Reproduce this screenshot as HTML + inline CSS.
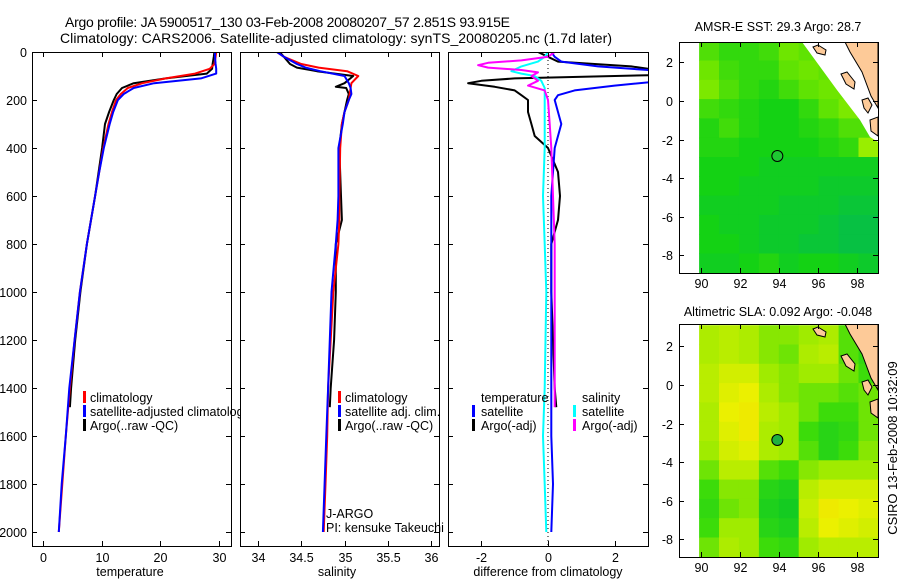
<!DOCTYPE html>
<html><head><meta charset="utf-8"><style>
body{margin:0;background:#fff;}
svg{display:block;font-family:"Liberation Sans",sans-serif;}
</style></head><body>
<svg id="fig" width="900" height="580" viewBox="0 0 900 580" xmlns="http://www.w3.org/2000/svg">
<defs>
<clipPath id="c1"><rect x="32" y="52" width="200" height="494"/></clipPath>
<clipPath id="c2"><rect x="240" y="52" width="199" height="494"/></clipPath>
<clipPath id="c3"><rect x="448" y="52" width="200" height="494"/></clipPath>
<clipPath id="cl1"><rect x="0" y="380" width="240" height="60"/></clipPath>
<clipPath id="cm1"><rect x="679" y="42" width="199" height="231"/></clipPath>
<clipPath id="cm2"><rect x="679" y="324" width="199" height="233"/></clipPath>
</defs>
<text x="65" y="27" font-size="14" textLength="445">Argo profile: JA 5900517_130 03-Feb-2008 20080207_57 2.851S 93.915E</text>
<text x="60" y="43" font-size="14" textLength="552">Climatology: CARS2006. Satellite-adjusted climatology: synTS_20080205.nc (1.7d later)</text>
<g id="g1" clip-path="url(#c1)"></g>
<g id="g2" clip-path="url(#c2)"></g>
<g id="g3" clip-path="url(#c3)"></g>
<g id="m1" clip-path="url(#cm1)"></g>
<g id="m2" clip-path="url(#cm2)"></g>
<g id="axes"></g>
<g font-size="12.5" clip-path="url(#cl1)">
<rect x="83" y="391" width="3" height="12" fill="#f00"/><text x="90" y="402">climatology</text>
<rect x="83" y="405" width="3" height="12" fill="#00f"/><text x="90" y="416">satellite-adjusted climatology</text>
<rect x="83" y="419" width="3" height="12" fill="#000"/><text x="90" y="430">Argo(..raw -QC)</text>
</g>
<g font-size="12.5">
<rect x="338" y="391" width="3" height="12" fill="#f00"/><text x="345" y="402">climatology</text>
<rect x="338" y="405" width="3" height="12" fill="#00f"/><text x="345" y="416">satellite adj. clim.</text>
<rect x="338" y="419" width="3" height="12" fill="#000"/><text x="345" y="430">Argo(..raw -QC)</text>
<text x="326" y="518">J-ARGO</text>
<text x="326" y="532">PI: kensuke Takeuchi</text>
</g>
<g font-size="12.5">
<text x="481" y="402">temperature</text>
<rect x="472" y="405" width="3" height="12" fill="#00f"/><text x="481" y="416">satellite</text>
<rect x="472" y="419" width="3" height="12" fill="#000"/><text x="481" y="430">Argo(-adj)</text>
<text x="582" y="402">salinity</text>
<rect x="573" y="405" width="3" height="12" fill="#0ff"/><text x="582" y="416">satellite</text>
<rect x="573" y="419" width="3" height="12" fill="#f0f"/><text x="582" y="430">Argo(-adj)</text>
</g>
<text x="130" y="576" font-size="12.5" text-anchor="middle">temperature</text>
<text x="337" y="576" font-size="12.5" text-anchor="middle">salinity</text>
<text x="548" y="576" font-size="12.5" text-anchor="middle">difference from climatology</text>
<text x="778" y="31" font-size="12.5" text-anchor="middle">AMSR-E SST: 29.3 Argo: 28.7</text>
<text x="778" y="316" font-size="12.5" text-anchor="middle">Altimetric SLA: 0.092 Argo: -0.048</text>
<text transform="translate(897,448) rotate(-90)" font-size="13" text-anchor="middle">CSIRO 13-Feb-2008 10:32:09</text>
</svg>
<script>
// ---- profile data ----
const depthsT = [0,20,50,70,90,110,130,150,175,200,250,300,400,500,600,700,800,1000,1200,1400,1600,1800,2000];
const climT = [29.6,29.5,29.3,28.5,26,21,17,14.5,13.3,12.5,11.8,11.2,10.3,9.6,8.9,8.2,7.5,6.3,5.4,4.6,3.9,3.3,2.7];
const satT  = [29.4,29.4,29.5,29.6,29.6,27,19,15.5,13.8,12.8,12,11.4,10.4,9.6,8.9,8.2,7.5,6.3,5.4,4.5,3.9,3.2,2.7];
const argoDepths = [0,20,50,70,90,110,130,150,175,200,250,300,400,500,600,700,800,1000,1200,1400,1480];
const argoT = [29.3,29.2,29.0,28.9,28.0,21,15.5,13.5,12.6,12.1,11.3,10.6,10.1,9.5,8.9,8.2,7.5,6.4,5.5,4.8,4.6];
const depthsS = [0,20,50,65,80,100,130,150,175,200,250,300,400,600,700,800,1000,1200,1400,1600,1800,2000];
const climS = [34.22,34.3,34.5,34.7,35.03,35.16,35.08,35.07,35.06,35.05,35.0,34.97,34.95,34.94,34.94,34.93,34.87,34.84,34.81,34.8,34.78,34.76];
const satS  = [34.22,34.3,34.45,34.55,34.72,35.0,35.05,35.07,35.08,35.05,35.0,34.98,34.93,34.93,34.92,34.9,34.85,34.83,34.81,34.79,34.77,34.75];
const argoSDepths = [0,20,50,65,80,100,130,145,150,175,200,300,400,600,700,800,1000,1200,1400,1480];
const argoS = [34.25,34.3,34.37,34.45,34.68,35.1,35.0,34.9,35.02,35.05,35.03,34.97,34.94,34.96,34.97,34.9,34.9,34.88,34.84,34.83];
const dTsatDepths = [0,20,40,60,80,100,120,140,160,180,200,250,300,350,400,500,600,800,1000,1200,1400,1600,1800,2000];
const dTsat = [0.1,0.2,0.4,1.5,3.5,3.5,3.5,2.0,0.8,0.3,0.2,0.3,0.4,0.3,0.2,0.15,0.1,0.1,0.1,0.1,0.1,0.1,0.15,0.1];
const dTargoDepths = [0,20,40,60,80,95,110,120,130,145,160,180,200,250,300,350,400,500,600,700,800,1000,1200,1400,1480];
const dTargo = [-0.3,0,0.3,2.5,3.5,3.5,-1.0,-2.0,-2.4,-1.6,-1.0,-0.8,-0.6,-0.6,-0.5,-0.4,0,0.3,0.36,0.3,0.1,0.1,0.15,0.2,0.25];
const dSsatDepths = [0,20,40,60,80,90,100,120,150,200,400,600,800,1000,1400,1600,1800,2000];
const dSsat = [0,-0.1,-0.3,-0.8,-1.1,-0.8,-0.4,-0.2,-0.1,-0.1,-0.1,-0.15,-0.1,-0.05,-0.1,-0.15,-0.1,-0.05];
const dSargoDepths = [0,20,35,45,55,65,75,85,100,120,140,160,200,300,400,600,800,1000,1200,1400,1480];
const dSargo = [0.2,0,-0.8,-1.8,-2.1,-1.8,-0.8,-0.3,-0.5,-0.3,-0.6,-0.1,0,0.05,0.1,0.15,0.2,0.2,0.2,0.2,0.2];
// ---- ticks ----
const depthTicks = [0,200,400,600,800,1000,1200,1400,1600,1800,2000];
const tempTicks = [0,10,20,30];
const salTicks = [34,34.5,35,35.5,36];
const salTickLabels = ["34","34.5","35","35.5","36"];
const diffTicks = [-2,0,2];
const lonTicks = [90,92,94,96,98];
const latTicks = [2,0,-2,-4,-6,-8];
// ---- map grids (rows lat 3.1 -> -8.9, cols lon 89.9 -> 99.1) ----
const sstGrid = [
[.50,.40,.40,.45,.60,.55,.50,.50,.50],
[.60,.45,.40,.40,.55,.60,.55,.50,.50],
[.65,.50,.40,.35,.45,.55,.60,.60,.50],
[.45,.40,.35,.30,.30,.40,.55,.65,.50],
[.35,.45,.35,.30,.30,.35,.40,.50,.50],
[.35,.35,.30,.30,.30,.30,.35,.40,.75],
[.30,.30,.30,.25,.25,.25,.25,.25,.25],
[.30,.30,.25,.25,.25,.25,.20,.20,.20],
[.25,.25,.25,.25,.20,.20,.20,.15,.15],
[.30,.25,.25,.20,.20,.20,.15,.10,.10],
[.30,.30,.25,.20,.20,.15,.15,.10,.10],
[.25,.25,.30,.35,.25,.30,.30,.25,.20]];
const slaGrid = [
[.55,.60,.55,.45,.45,.50,.55,.35,.20],
[.55,.60,.55,.45,.40,.55,.60,.35,.25],
[.60,.70,.70,.50,.45,.50,.50,.40,.30],
[.60,.75,.80,.55,.45,.40,.40,.35,.40],
[.55,.80,.85,.60,.50,.40,.30,.30,.40],
[.55,.75,.85,.55,.50,.30,.20,.25,.40],
[.50,.70,.75,.55,.50,.35,.20,.30,.45],
[.40,.60,.60,.35,.30,.45,.50,.50,.50],
[.30,.45,.45,.20,.15,.60,.70,.70,.70],
[.25,.40,.45,.15,.10,.65,.85,.80,.75],
[.30,.50,.50,.20,.15,.60,.80,.75,.70],
[.40,.55,.50,.30,.25,.50,.60,.60,.60]];
const argoLon = 93.915, argoLat = -2.851;

const NS="http://www.w3.org/2000/svg";
function mk(tag, attrs, parent){const e=document.createElementNS(NS,tag);for(const k in attrs)e.setAttribute(k,attrs[k]);parent.appendChild(e);return e;}
const yD = d => 52 + d*0.24;
const xT = v => 43 + v*5.85;
const xS = v => 258 + (v-34)*86.5;
const xDf = v => 548 + v*33.3;
const xLon = v => 701 + (v-90)*19.5;
const yLat1 = v => 101 - v*19.3;
const yLat2 = v => 385 - v*19.3;

function line(g, depths, vals, fx, color, name){
  const pts = depths.map((d,i)=>fx(vals[i]).toFixed(1)+","+yD(d).toFixed(1)).join(" ");
  const p = mk("polyline",{points:pts,fill:"none",stroke:color,"stroke-width":2,"stroke-linejoin":"round"},g);
  
  
}
const g1=document.getElementById("g1"),g2=document.getElementById("g2"),g3=document.getElementById("g3");
line(g1,argoDepths,argoT,xT,"#000","argo-temperature-line");
line(g1,depthsT,climT,xT,"#f00","climatology-temperature-line");
line(g1,depthsT,satT,xT,"#00f","satellite-temperature-line");
line(g2,argoSDepths,argoS,xS,"#000","argo-salinity-line");
line(g2,depthsS,climS,xS,"#f00","climatology-salinity-line");
line(g2,depthsS,satS,xS,"#00f","satellite-salinity-line");
mk("line",{x1:xDf(0),x2:xDf(0),y1:52,y2:546,stroke:"#000","stroke-width":1,"stroke-dasharray":"1,3"},g3);
line(g3,dTargoDepths,dTargo,xDf,"#000","argo-temperature-diff-line");
line(g3,dTsatDepths,dTsat,xDf,"#00f","satellite-temperature-diff-line");
line(g3,dSsatDepths,dSsat,xDf,"#0ff","satellite-salinity-diff-line");
line(g3,dSargoDepths,dSargo,xDf,"#f0f","argo-salinity-diff-line");

const ax=document.getElementById("axes");
function box(x,y,w,h,name){const r=mk("rect",{x:x+0.5,y:y+0.5,width:w,height:h,fill:"none",stroke:"#000","stroke-width":1},ax);}
function txt(x,y,s,anchor,name){const t=mk("text",{x:x,y:y,"font-size":12.5,"text-anchor":anchor},ax);t.textContent=s;}
function tick(x1,y1,x2,y2){mk("line",{x1:x1,y1:y1,x2:x2,y2:y2,stroke:"#000","stroke-width":1},ax);}
const panels=[[32,199,xT,tempTicks,tempTicks.map(String)],[240,199,xS,salTicks,salTickLabels],[448,200,xDf,diffTicks,diffTicks.map(String)]];
panels.forEach((p,pi)=>{
  const [x0,w,fx,tks,lbl]=p;
  box(x0,52,w,494,"profile-panel-frame");
  depthTicks.forEach(d=>{const y=Math.round(yD(d))+0.5;tick(x0,y,x0+5,y);tick(x0+w,y,x0+w-5,y);
    if(pi===0) txt(27,y+4.5,String(d),"end","depth-tick-label");});
  tks.forEach((v,i)=>{const x=Math.round(fx(v))+0.5;tick(x,546,x,541);tick(x,52.5,x,57);txt(x,562,lbl[i],"middle","x-tick-label");});
});

function colSST(v){
  const stops=[[0,[0,185,90]],[0.3,[20,210,20]],[0.6,[110,230,0]],[1,[225,250,0]]];
  return interp(stops,v);}
function colSLA(v){
  const stops=[[0,[0,195,45]],[0.3,[60,220,10]],[0.5,[160,235,0]],[0.8,[235,240,0]],[1,[245,215,0]]];
  return interp(stops,v);}
function interp(stops,v){for(let i=0;i<stops.length-1;i++){const [a,ca]=stops[i],[b,cb]=stops[i+1];if(v<=b){const t=(v-a)/(b-a);return "rgb("+ca.map((c,k)=>Math.round(c+(cb[k]-c)*t)).join(",")+")";}}return "rgb("+stops[stops.length-1][1].join(",")+")";}

function drawMap(gid,grid,colf,yLat,top,dy,name){
  const g=document.getElementById(gid);
  const cw=(99.1-89.9)/9;
  grid.forEach((row,r)=>row.forEach((v,c)=>{
    const x0=xLon(89.9+c*cw),x1=xLon(89.9+(c+1)*cw),y0=yLat(3.1-r),y1=yLat(2.1-r);
    const e=mk("rect",{x:x0.toFixed(1),y:y0.toFixed(1),width:(x1-x0+0.6).toFixed(1),height:(y1-y0+0.6).toFixed(1),fill:colf(v)},g);
    
    
  }));
  if(gid==="m1"){mk("polygon",{points:"802,42 878,42 878,142 870,137 860,120 837,90",fill:"#fff"},g);}
  const L=(pts)=>pts.map(p=>p[0]+","+(p[1]+dy)).join(" ");
  const land=[[[845,42],[878,42],[878,108],[871,96],[862,72],[850,52]],
    [[813,47],[818,45],[826,50],[825,55],[817,53]],
    [[841,74],[847,72],[855,82],[854,89],[846,84]],
    [[862,100],[868,98],[872,105],[868,113],[864,108]],
    [[870,120],[878,117],[878,136],[871,131]]];
  land.forEach(pts=>{const e=mk("polygon",{points:L(pts),fill:"#fdca98",stroke:"#000","stroke-width":1},g);
    });
  const m=mk("circle",{cx:xLon(argoLon),cy:yLat(argoLat),r:5.5,fill:gid==="m1"?"#1ec832":"#20b040",stroke:"#000","stroke-width":1},g);
  
  
  const h=gid==="m1"?231:233;
  box(679,top,199,h,name+"-frame");
  latTicks.forEach(v=>{const y=Math.round(yLat(v))+0.5;tick(679,y,684,y);tick(878,y,873,y);txt(673,y+4.5,String(v),"end","lat-tick-label");});
  lonTicks.forEach(v=>{const x=Math.round(xLon(v))+0.5;tick(x,top+h,x,top+h-5);tick(x,top+0.5,x,top+5);txt(x,top+h+15,String(v),"middle","lon-tick-label");});
}
drawMap("m1",sstGrid,colSST,yLat1,42,0,"sst-map");
drawMap("m2",slaGrid,colSLA,yLat2,324,282,"sla-map");
</script>
</body></html>
